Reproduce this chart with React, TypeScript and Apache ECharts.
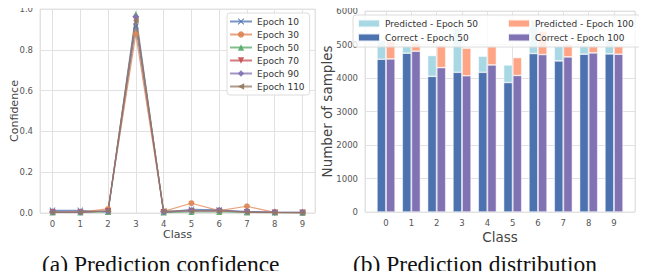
import React, { useEffect, useRef } from "react";
import * as echarts from "echarts";

const classes = [0, 1, 2, 3, 4, 5, 6, 7, 8, 9];

// Left: prediction confidence per class
const epoch10 = [0.013, 0.013, 0.005, 0.915, 0.003, 0.018, 0.015, 0.005, 0.003, 0.002];
const epoch30 = [0.005, 0.005, 0.02, 0.877, 0.008, 0.048, 0.012, 0.033, 0.003, 0.001];
const epoch50 = [0.003, 0.003, 0.005, 0.975, 0.002, 0.005, 0.005, 0.003, 0.002, 0.001];
const epoch70 = [0.005, 0.004, 0.01, 0.95, 0.005, 0.01, 0.01, 0.005, 0.003, 0.002];
const epoch90 = [0.006, 0.005, 0.008, 0.962, 0.006, 0.012, 0.013, 0.008, 0.005, 0.004];
const epoch110 = [0.004, 0.004, 0.01, 0.945, 0.01, 0.01, 0.01, 0.004, 0.002, 0.002];

// Right: prediction distribution
const predicted50 = [5130, 4960, 4670, 5490, 4650, 4390, 5730, 4950, 4980, 5130];
const correct50 = [4560, 4740, 4050, 4170, 4170, 3865, 4730, 4510, 4710, 4720];
const predicted100 = [5090, 5050, 4990, 4890, 4940, 4610, 5400, 5000, 4950, 4950];
const correct100 = [4570, 4800, 4310, 4065, 4390, 4075, 4700, 4630, 4750, 4710];

const confTicks = [0, 0.2, 0.4, 0.6, 0.8, 1.0];

const FONT = "DejaVu Sans";
const TICK = "#555";
const TITLE = "#444";
const GRIDC = "#e2e2e2";

const xShape = "path://M0,1 L1,0 L5,4 L9,0 L10,1 L6,5 L10,9 L9,10 L5,6 L1,10 L0,9 L4,5 Z";

// right panel geometry (value axis frame and the category band overlay that matches it)
const R_LEFT = 365;
const R_WIDTH = 270;
const R_MIN = -0.83;
const R_MAX = 9.83;
const R_STEP = R_WIDTH / (R_MAX - R_MIN);

export default function App() {
  const ref = useRef<HTMLDivElement>(null);
  useEffect(() => {
    if (!ref.current) return;
    const chart = echarts.init(ref.current, null, { renderer: "svg" });

    const lineDefs = [
      { name: "Epoch 10", data: epoch10, color: "#4C72B0", symbol: xShape, rot: 0, size: 6 },
      { name: "Epoch 30", data: epoch30, color: "#DD8452", symbol: "circle", rot: 0, size: 6 },
      { name: "Epoch 50", data: epoch50, color: "#55A868", symbol: "triangle", rot: 0, size: 6 },
      { name: "Epoch 70", data: epoch70, color: "#C44E52", symbol: "triangle", rot: 180, size: 6 },
      { name: "Epoch 90", data: epoch90, color: "#8172B3", symbol: "diamond", rot: 0, size: 7 },
      { name: "Epoch 110", data: epoch110, color: "#937860", symbol: "triangle", rot: 90, size: 6 },
    ];

    const intLabel = (v: number) =>
      Math.abs(v - Math.round(v)) < 1e-6 && v >= 0 && v <= 9 ? String(Math.round(v)) : "";

    const lineSeries = lineDefs.map((d) => ({
      type: "line",
      name: d.name,
      xAxisIndex: 0,
      yAxisIndex: 0,
      data: classes.map((c, i) => [c, d.data[i]]),
      symbol: d.symbol,
      symbolSize: d.size,
      symbolRotate: d.rot,
      showSymbol: true,
      itemStyle: { color: d.color, opacity: 0.9 },
      lineStyle: { color: d.color, width: 1.2, opacity: 0.75 },
      z: 3,
    }));

    const barBase = {
      type: "bar",
      xAxisIndex: 2,
      yAxisIndex: 2,
      barWidth: "35%",
      barGap: "4%",
      z: 2,
    };
    const edge = { borderColor: "rgba(255,255,255,0.85)", borderWidth: 0.6 };

    const barSeries = [
      {
        ...barBase,
        name: "Correct - Epoch 50",
        stack: "e50",
        data: correct50,
        itemStyle: { color: "#4C72B0", ...edge },
      },
      {
        ...barBase,
        name: "Predicted - Epoch 50",
        stack: "e50",
        data: predicted50.map((p, i) => p - correct50[i]),
        itemStyle: { color: "#A8D8E4", ...edge },
      },
      {
        ...barBase,
        name: "Correct - Epoch 100",
        stack: "e100",
        data: correct100,
        itemStyle: { color: "#8172B3", ...edge },
      },
      {
        ...barBase,
        name: "Predicted - Epoch 100",
        stack: "e100",
        data: predicted100.map((p, i) => p - correct100[i]),
        itemStyle: { color: "#FFA585", ...edge },
      },
    ];

    const legendText = { fontFamily: FONT, color: "#333" };
    const captionStyle = { fontFamily: "Liberation Serif", fontSize: 23.5, fontWeight: "normal", color: "#111" };

    chart.setOption({
      animation: false,
      backgroundColor: "#fff",
      textStyle: { fontFamily: FONT },
      title: [
        { text: "(a) Prediction confidence", left: 42, top: 252, padding: 0, textStyle: captionStyle },
        { text: "(b) Prediction distribution", left: 353, top: 252, padding: 0, textStyle: captionStyle },
      ],
      grid: [
        { left: 40, top: 9, width: 275, height: 204, show: true, borderColor: GRIDC, borderWidth: 1 },
        { left: R_LEFT, top: 11, width: R_WIDTH, height: 201, show: true, borderColor: GRIDC, borderWidth: 1 },
        {
          left: R_LEFT + (-0.5 - R_MIN) * R_STEP,
          top: 11,
          width: 10 * R_STEP,
          height: 201,
          show: false,
        },
      ],
      xAxis: [
        {
          type: "value",
          gridIndex: 0,
          min: -0.45,
          max: 9.45,
          splitNumber: 10,
          minInterval: 1,
          maxInterval: 1,
          axisLine: { show: false },
          axisTick: { show: false },
          axisLabel: { formatter: intLabel, color: TICK, fontSize: 8.5, margin: 6, showMinLabel: false, showMaxLabel: false },
          splitLine: { show: true, lineStyle: { color: GRIDC, width: 1 } },
          name: "Class",
          nameLocation: "middle",
          nameGap: 16,
          nameMoveOverlap: false,
          nameTextStyle: { color: TITLE, fontSize: 11, verticalAlign: "top" },
        },
        {
          type: "value",
          gridIndex: 1,
          min: R_MIN,
          max: R_MAX,
          splitNumber: 10,
          minInterval: 1,
          maxInterval: 1,
          axisLine: { show: false },
          axisTick: { show: false },
          axisLabel: { formatter: intLabel, color: TICK, fontSize: 8.5, margin: 6, showMinLabel: false, showMaxLabel: false },
          splitLine: { show: true, lineStyle: { color: GRIDC, width: 1 } },
          name: "Class",
          nameLocation: "middle",
          nameGap: 18,
          nameMoveOverlap: false,
          nameTextStyle: { color: TITLE, fontSize: 13.5, verticalAlign: "top" },
        },
        {
          type: "category",
          gridIndex: 2,
          data: classes.map(String),
          show: false,
        },
      ],
      yAxis: [
        {
          type: "value",
          gridIndex: 0,
          min: confTicks[0],
          max: confTicks[confTicks.length - 1],
          interval: 0.2,
          axisLine: { show: false },
          axisTick: { show: false },
          axisLabel: { formatter: (v: number) => v.toFixed(1), color: TICK, fontSize: 8.5, margin: 7 },
          splitLine: { show: true, lineStyle: { color: GRIDC, width: 1 } },
          name: "Confidence",
          nameLocation: "middle",
          nameGap: 20,
          nameMoveOverlap: false,
          nameTextStyle: { color: TITLE, fontSize: 11 },
        },
        {
          type: "value",
          gridIndex: 1,
          min: 0,
          max: 6000,
          interval: 1000,
          axisLine: { show: false },
          axisTick: { show: false },
          axisLabel: { formatter: (v: number) => String(v), color: TICK, fontSize: 8.5, margin: 7 },
          splitLine: { show: true, lineStyle: { color: GRIDC, width: 1 } },
          name: "Number of samples",
          nameLocation: "middle",
          nameGap: 31,
          nameMoveOverlap: false,
          nameTextStyle: { color: TITLE, fontSize: 13.5 },
        },
        {
          type: "value",
          gridIndex: 2,
          min: 0,
          max: 6000,
          show: false,
        },
      ],
      legend: [
        {
          data: lineDefs.map((d) => d.name),
          orient: "vertical",
          left: 227,
          top: 13,
          padding: [4, 5, 4, 2],
          itemWidth: 22,
          itemHeight: 8,
          itemGap: 4,
          backgroundColor: "rgba(255,255,255,0.85)",
          borderColor: "#dcdcdc",
          borderWidth: 1,
          borderRadius: 3,
          textStyle: { ...legendText, fontSize: 9 },
          z: 5,
        },
        {
          data: ["Predicted - Epoch 50", "Correct - Epoch 50"],
          orient: "vertical",
          left: 357,
          top: 18,
          padding: 0,
          itemWidth: 22,
          itemHeight: 8,
          itemGap: 3,
          textStyle: { ...legendText, fontSize: 9, lineHeight: 11 },
          icon: "rect",
          z: 5,
        },
        {
          data: ["Predicted - Epoch 100", "Correct - Epoch 100"],
          orient: "vertical",
          left: 507,
          top: 18,
          padding: 0,
          itemWidth: 22,
          itemHeight: 8,
          itemGap: 3,
          width: 140,
          textStyle: { ...legendText, fontSize: 9, lineHeight: 11 },
          icon: "rect",
          z: 5,
        },
      ],
      graphic: [
        {
          type: "rect",
          z: 4,
          shape: { x: 353, y: 15, width: 292, height: 32, r: 3 },
          style: { fill: "rgba(255,255,255,0.8)", stroke: "#dcdcdc", lineWidth: 1 },
        },
      ],
      series: [...lineSeries, ...barSeries],
    });

    return () => chart.dispose();
  }, []);

  return <div ref={ref} style={{ width: 647, height: 279, margin: -8 }} />;
}
